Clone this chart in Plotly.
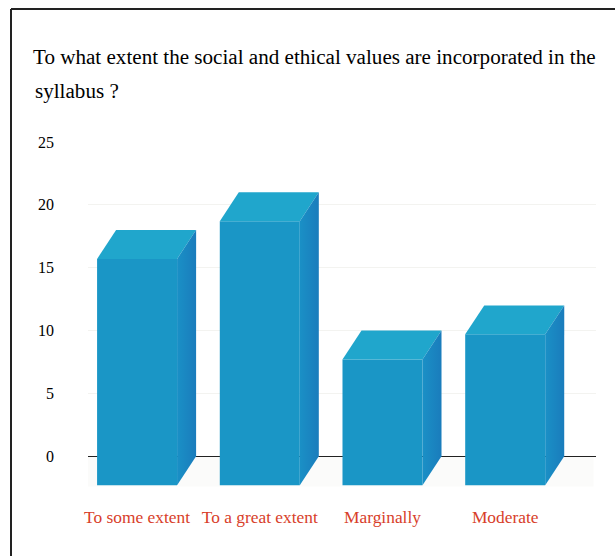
import plotly.graph_objects as go

categories = ['To some extent', 'To a great extent', 'Marginally', 'Moderate']
values = [18, 21, 10, 12]
y_ticks = [0, 5, 10, 15, 20, 25]
title_lines = ['To what extent the social and ethical values are incorporated in the', 'syllabus ?']

# fake 3d look: depth of the box in axis units
bar_width = 0.652
depth_x = 0.155
depth_y = 2.3

FRONT = '#1a96c6'
TOP = '#20a6cc'
SIDE_DARK = '#1a7cbc'
SIDE_LIGHT = '#1a90c6'
SERIF = 'Liberation Serif'

positions = list(range(len(categories)))

fig = go.Figure()

fig.add_trace(go.Bar(x=positions, y=values, base=-depth_y, width=bar_width,
                     marker=dict(color=FRONT, line_width=0), hovertext=categories))

for pos, val in zip(positions, values):
    left = pos - bar_width / 2
    right = pos + bar_width / 2
    front_top = val - depth_y
    # top face
    fig.add_trace(go.Scatter(x=[left, right, right + depth_x, left + depth_x],
                             y=[front_top, front_top, val, val],
                             fill='toself', fillcolor=TOP, mode='none', hoverinfo='skip'))
    # side face
    fig.add_trace(go.Scatter(x=[right, right + depth_x, right + depth_x, right],
                             y=[front_top, val, 0, -depth_y],
                             fill='toself', mode='none', hoverinfo='skip',
                             fillgradient=dict(type='horizontal',
                                               colorscale=[[0, SIDE_LIGHT], [1, SIDE_DARK]])))

fig.update_layout(
    width=615, height=556,
    margin=dict(l=88, r=19, t=142, b=62),
    paper_bgcolor='white', plot_bgcolor='white',
    showlegend=False,
    font=dict(family=SERIF, color='black'),
    title=dict(text=title_lines[0], x=33 / 615, xanchor='left', y=1 - 57 / 556, yanchor='middle',
               font=dict(family=SERIF, size=21.1, color='black')),
    xaxis=dict(range=[-0.4, 3.74], tickmode='array', tickvals=positions, ticktext=categories,
               showgrid=False, zeroline=False, showline=False, ticks='', ticklabelstandoff=11,
               tickfont=dict(family=SERIF, size=17.4, color='#d8402a')),
    yaxis=dict(range=[-3, 25], tickmode='array', tickvals=y_ticks, showgrid=True,
               gridcolor='#f3f3f0', gridwidth=1, zeroline=True, zerolinecolor='#222222',
               zerolinewidth=1, showline=False, ticks='', ticklabelstandoff=33,
               tickfont=dict(family=SERIF, size=16, color='black')),
    annotations=[dict(text=title_lines[1], xref='paper', yref='paper', showarrow=False,
                      x=(33 - 88) / 508, xanchor='left', y=(494 - 91) / 352, yanchor='middle',
                      font=dict(family=SERIF, size=21.1, color='black'))],
    shapes=[
        # floor shadow under the bars
        dict(type='rect', xref='x', yref='y', x0=-0.55, x1=3.72, y0=-depth_y - 0.1, y1=0,
             fillcolor='#fbfbfa', line_width=0, layer='below'),
        # scanned frame, left and top edges
        dict(type='line', xref='paper', yref='paper', x0=(11 - 88) / 508, x1=(11 - 88) / 508,
             y0=(494 - 556) / 352, y1=(494 - 9) / 352, line=dict(color='#222222', width=2)),
        dict(type='line', xref='paper', yref='paper', x0=(11 - 88) / 508, x1=(615 - 88) / 508,
             y0=(494 - 9) / 352, y1=(494 - 9) / 352, line=dict(color='#222222', width=2)),
    ],
)

fig.write_html('out.html', config={'displayModeBar': False},
               post_script="document.body.style.margin='0';")
